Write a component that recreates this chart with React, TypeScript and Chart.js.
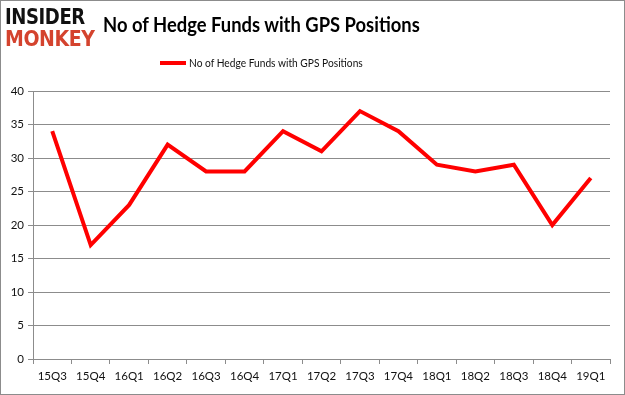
import React, { useEffect, useRef } from "react";
import { Chart, registerables } from "chart.js";

Chart.register(...registerables);

const categories = ["15Q3", "15Q4", "16Q1", "16Q2", "16Q3", "16Q4", "17Q1", "17Q2", "17Q3", "17Q4", "18Q1", "18Q2", "18Q3", "18Q4", "19Q1"];
const hedgeFundCounts = [34, 17, 23, 32, 28, 28, 34, 31, 37, 34, 29, 28, 29, 20, 27];
const seriesName = "No of Hedge Funds with GPS Positions";
const chartTitle = "No of Hedge Funds with GPS Positions";

const FONT = "Lato, 'Open Sans', 'DejaVu Sans', sans-serif";
const GRID = "#8c8c8c";

export default function App() {
  const ref = useRef<HTMLCanvasElement | null>(null);

  useEffect(() => {
    if (!ref.current) return;
    const chart = new Chart(ref.current, {
      type: "line",
      data: {
        labels: categories,
        datasets: [
          {
            label: seriesName,
            data: hedgeFundCounts,
            borderColor: "#ff0000",
            backgroundColor: "#ff0000",
            borderWidth: 4,
            pointRadius: 0,
            tension: 0,
          },
        ],
      },
      options: {
        animation: false,
        responsive: false,
        maintainAspectRatio: false,
        layout: { padding: { top: 91, right: 15, bottom: 0, left: 0 } },
        plugins: {
          legend: { display: false },
          title: { display: false },
          tooltip: { enabled: false },
        },
        scales: {
          x: {
            type: "category",
            offset: true,
            grid: {
              offset: true,
              drawOnChartArea: false,
              drawTicks: true,
              tickLength: 5,
              color: GRID,
            },
            border: { display: true, color: GRID },
            ticks: {
              color: "#111",
              font: { family: FONT, size: 11.5 },
              maxRotation: 0,
              autoSkip: false,
              padding: 5,
            },
            afterFit: (scale: any) => {
              scale.height = 36;
            },
          },
          y: {
            min: 0,
            max: 40,
            ticks: {
              stepSize: 5,
              color: "#111",
              font: { family: FONT, size: 11.5 },
              padding: 4,
            },
            grid: { color: GRID, tickLength: 5 },
            border: { display: true, color: GRID },
            afterFit: (scale: any) => {
              scale.width = 33;
            },
          },
        },
      },
    });
    return () => chart.destroy();
  }, []);

  return (
    <div
      style={{
        position: "fixed",
        left: 0,
        top: 0,
        width: 625,
        height: 395,
        background: "#fff",
        boxSizing: "border-box",
        border: "1px solid #8c8c8c",
        overflow: "hidden",
      }}
    >
      <canvas ref={ref} width={625} height={395} style={{ position: "absolute", left: -1, top: -1 }} />
      <div
        style={{
          position: "absolute",
          left: 4,
          top: 6,
          fontFamily: "'DejaVu Sans', sans-serif",
          fontWeight: 900,
          letterSpacing: -0.5,
          transform: "scaleX(0.86)",
          transformOrigin: "left top",
        }}
      >
        <div style={{ color: "#111", fontSize: 21, lineHeight: "21px" }}>INSIDER</div>
        <div style={{ color: "#d4432e", fontSize: 22, lineHeight: "21px" }}>MONKEY</div>
      </div>
      <div
        style={{
          position: "absolute",
          left: 102,
          top: 11,
          fontFamily: FONT,
          fontWeight: 700,
          fontSize: 20,
          color: "#000",
          whiteSpace: "nowrap",
          transform: "scaleX(0.92)",
          transformOrigin: "left top",
        }}
      >
        {chartTitle}
      </div>
      <div
        style={{
          position: "absolute",
          left: 159,
          top: 54,
          fontFamily: FONT,
          fontSize: 12,
          color: "#111",
          whiteSpace: "nowrap",
          display: "flex",
          alignItems: "center",
        }}
      >
        <span style={{ display: "inline-block", width: 26, height: 4, background: "#ff0000", marginRight: 3 }} />
        <span style={{ display: "inline-block", transform: "scaleX(0.85)", transformOrigin: "left center" }}>{seriesName}</span>
      </div>
    </div>
  );
}
